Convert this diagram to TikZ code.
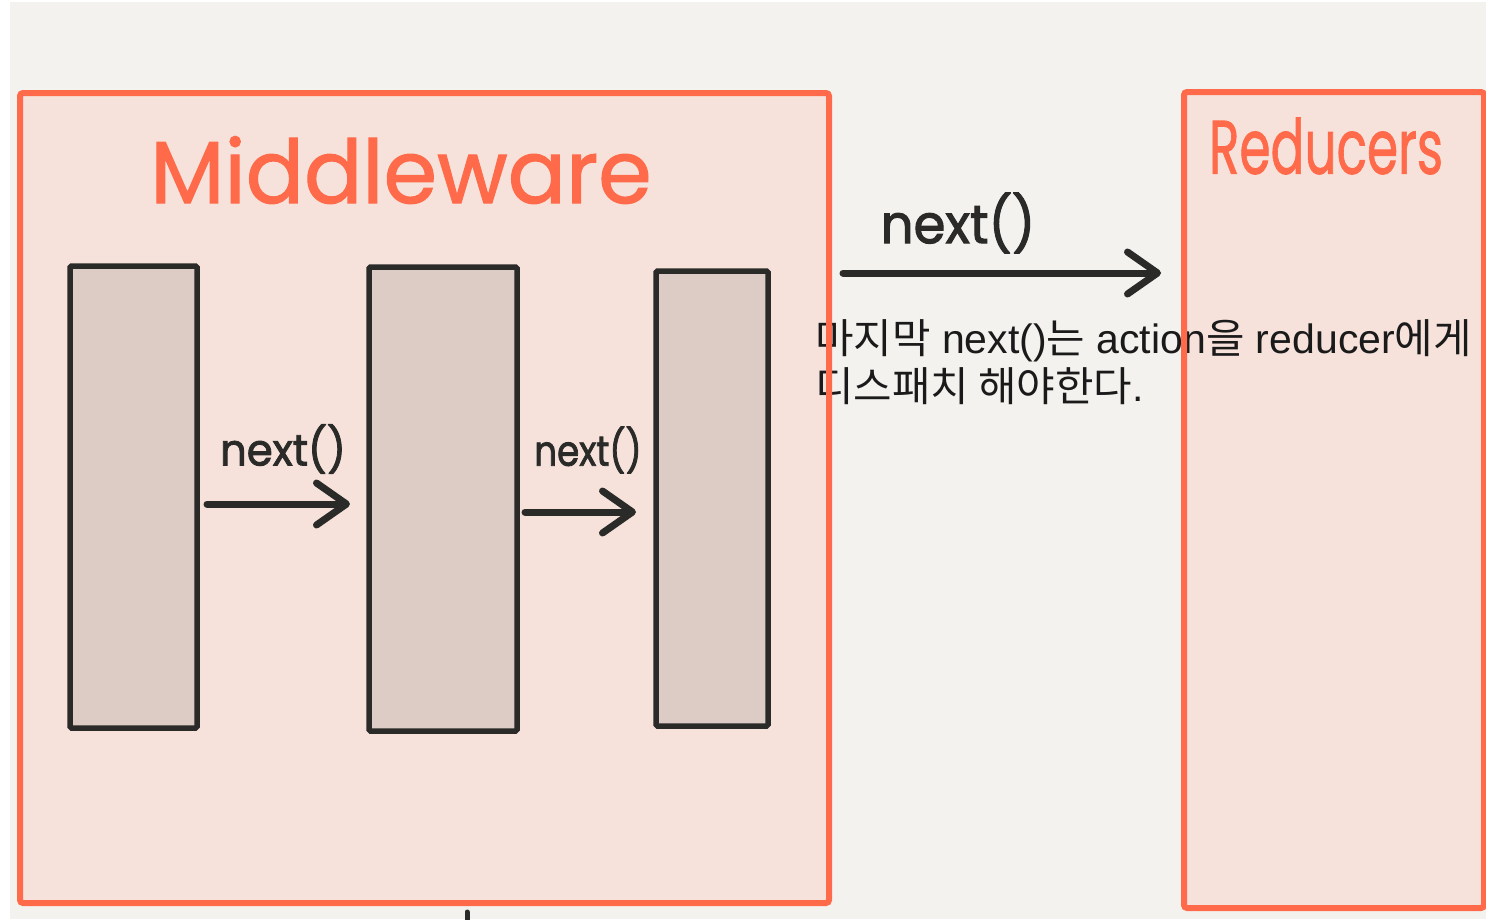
\documentclass[tikz,border=0pt]{standalone}
\usepackage{fontspec}
\setmainfont{Liberation Sans}
\newfontfamily\kr[FakeStretch=1.02]{Noto Sans CJK KR}
\newfontfamily\hand[FakeBold=1.2]{Poppins}
\newfontfamily\handb[FakeBold=2]{Poppins}
\usetikzlibrary{arrows.meta}
\definecolor{bgc}{HTML}{F4F2EE}
\definecolor{orng}{HTML}{FF6B4A}
\definecolor{pinkfill}{HTML}{F6E2DB}
\definecolor{blockfill}{HTML}{DDCCC5}
\definecolor{dark}{HTML}{2A2A28}
\definecolor{txt}{HTML}{1A1A1A}
\tikzset{
  boxfill/.style={rectangle, fill=pinkfill, draw=none, inner sep=0, outer sep=0, anchor=north west},
  boxline/.style={draw=orng, line width=6pt, rounded corners=3pt},
  block/.style={rectangle, fill=blockfill, draw=dark, line width=5.5pt, inner sep=0, outer sep=0, anchor=north west, rounded corners=1.5pt},
  arr/.style={draw=dark, line width=7pt, line cap=round, -{Straight Barb[length=30pt,width=42pt,round]}},
  handlbl/.style={text=dark, inner sep=0},
  title/.style={text=orng, inner sep=0},
  note/.style={text=txt, inner sep=0, anchor=base west, font=\fontsize{41}{48}\selectfont}
}
\begin{document}
\begin{tikzpicture}[x=1pt,y=-1pt]
\useasboundingbox (0,0) rectangle (1486,919);
\fill[white] (0,0) rectangle (1486,919);
\fill[bgc] (10,2) rectangle (1486,919);
% box fills
\node[boxfill, minimum width=809pt, minimum height=810pt] (mw) at (20,93) {};
\node[boxfill, minimum width=300pt, minimum height=816pt] (red) at (1184,92) {};
% blocks
\node[block, minimum width=127pt, minimum height=462pt] (b1) at (70,266) {};
\node[block, minimum width=148pt, minimum height=464pt] (b2) at (369,267) {};
\node[block, minimum width=112pt, minimum height=455pt] (b3) at (656,271) {};
% arrows
\coordinate (a1s) at (207,504);
\coordinate (a1e) at (350,504);
\coordinate (a2s) at (525,512);
\coordinate (a2e) at (636,512);
\coordinate (a3s) at (843,273);
\coordinate (a3e) at (1161,273);
\draw[arr] (a1s) -- (a1e);
\draw[arr] (a2s) -- (a2e);
\draw[arr] (a3s) -- (a3e);
% labels
\node[handlbl, font=\handb\fontsize{44}{44}\selectfont] (l1) at (283,449) {\scalebox{0.95}[1]{next()}};
\node[handlbl, font=\handb\fontsize{42}{42}\selectfont] (l2) at (588,450) {\scalebox{0.85}[1]{next()}};
\node[handlbl, font=\handb\fontsize{54}{54}\selectfont] (l3) at (958,223) {\scalebox{0.95}[1]{next()}};
\node[title, font=\hand\fontsize{88}{88}\selectfont] (mwt) at (401,170) {\scalebox{0.98}[1]{Middleware}};
\node[title, font=\hand\fontsize{76}{76}\selectfont] (redt) at (1326,146) {\scalebox{0.66}[1]{Reducers}};
% note
\node[note] (n1) at (815,353) {{\kr 마지막} next(){\kr 는} action{\kr 을} reducer{\kr 에게}};
\node[note] (n2) at (815,401) {{\kr 디스패치 해야한다}.};
% borders
\draw[boxline] (mw.north west) rectangle (mw.south east);
\draw[boxline] (red.north west) rectangle (red.south east);
% bottom tick
\coordinate (tk1) at (467,912);
\coordinate (tk2) at (467,922);
\draw[dark, line width=5pt, line cap=round] (tk1) -- (tk2);
\end{tikzpicture}
\end{document}
